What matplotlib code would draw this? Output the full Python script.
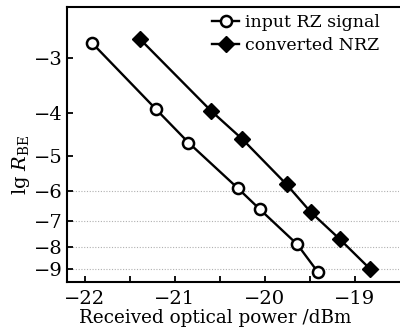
#!/usr/bin/env python3
"""
BER curves: input RZ signal vs converted NRZ, lg(BER) on a Q-type scale.
"""

import matplotlib
matplotlib.use("Agg")
import matplotlib.pyplot as plt
import numpy as np

# -------------------------------------------------------------
# Data
# -------------------------------------------------------------
rz_power = [-21.92, -21.21, -20.85, -20.30, -20.06, -19.64, -19.41]
rz_lgber = [-2.78, -3.92, -4.66, -5.91, -6.58, -7.91, -9.14]

nrz_power = [-21.39, -20.60, -20.25, -19.76, -19.49, -19.17, -18.83]
nrz_lgber = [-2.72, -3.95, -4.58, -5.79, -6.69, -7.69, -8.99]

x_ticks = [-22, -21, -20, -19]
y_ticks = [-3, -4, -5, -6, -7, -8, -9]
grid_levels = [-6, -7, -8, -9]

plt.rcParams["font.family"] = ["DejaVu Serif"]
plt.rcParams["mathtext.fontset"] = "dejavuserif"


# scale used for BER plots: -log10(-lg BER)
def fwd(v):
    return -np.log10(np.clip(-np.asarray(v, dtype=float), 1e-6, None))


def inv(u):
    return -np.power(10.0, -np.asarray(u, dtype=float))


fig = plt.figure(figsize=(4.0, 3.33), dpi=100)
ax = fig.add_axes([0.1675, 0.154, 0.83, 0.826])
ax.set_yscale("function", functions=(fwd, inv))

for lv in grid_levels:
    ax.axhline(lv, color="#b0b0b0", lw=0.8, ls=(0, (1, 1.5)), zorder=0)

ax.plot(rz_power, rz_lgber, "-o", color="black", lw=1.7, ms=8,
        mfc="white", mec="black", mew=1.8, label="input RZ signal")
ax.plot(nrz_power, nrz_lgber, "-D", color="black", lw=1.7, ms=8.5,
        mfc="black", mec="black", label="converted NRZ")

ax.set_xlim(-22.2, -18.51)
ax.set_ylim(-9.6, -2.30)
ax.set_xticks(x_ticks)
ax.set_xticks(np.arange(-22.0, -18.5, 0.5), minor=True)
ax.set_xticklabels(["\u2212%d" % abs(t) for t in x_ticks])
ax.set_yticks(y_ticks)
ax.set_yticklabels(["\u2212%d" % abs(t) for t in y_ticks])
ax.yaxis.set_minor_locator(matplotlib.ticker.NullLocator())

ax.tick_params(direction="in", length=4, width=1.3, labelsize=14)
ax.tick_params(which="minor", direction="in", length=4, width=1.3)
ax.tick_params(axis="x", pad=6)
ax.tick_params(axis="y", pad=3)
for side in ["left", "bottom", "top"]:
    ax.spines[side].set_linewidth(1.5)
ax.spines["right"].set_visible(False)

ax.set_xlabel("Received optical power /dBm", fontsize=13.2)
ax.set_ylabel(r"lg $R_{\mathrm{BE}}$", fontsize=14)
ax.xaxis.set_label_coords(0.446, -0.10)
ax.yaxis.set_label_coords(-0.105, 0.425)

ax.legend(loc="upper right", frameon=False, fontsize=12.5, handlelength=1.6,
          handletextpad=0.3, borderaxespad=0.1, labelspacing=0.3,
          borderpad=0.35, bbox_to_anchor=(0.965, 1.0))

fig.savefig("out.png", dpi=100)
